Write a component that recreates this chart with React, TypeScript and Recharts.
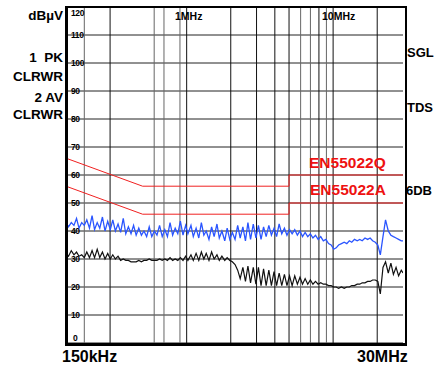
import React from "react";
import { LineChart, Line, XAxis, YAxis, CartesianGrid, ReferenceLine } from "recharts";

// sweep frequencies in MHz
const freqs = [
  0.15, 0.156, 0.163, 0.17, 0.177, 0.184, 0.192, 0.2,
  0.208, 0.217, 0.226, 0.235, 0.245, 0.255, 0.266, 0.277, 0.289, 0.301,
  0.313, 0.326, 0.34, 0.354, 0.369, 0.384, 0.4,
  0.417, 0.434, 0.452, 0.471, 0.491, 0.511,
  0.533, 0.555, 0.578, 0.602, 0.627, 0.653, 0.681, 0.709,
  0.739, 0.77, 0.802, 0.835, 0.87, 0.906, 0.944, 0.984, 1.02,
  1.07, 1.11, 1.16, 1.21, 1.26, 1.31, 1.36, 1.42, 1.48, 1.54, 1.61, 1.67, 1.74, 1.82, 1.89, 1.97, 2.05,
  2.14, 2.23, 2.32, 2.42, 2.52, 2.62, 2.73, 2.85, 2.97, 3.09,
  3.22, 3.35, 3.49, 3.64, 3.79, 3.95, 4.11, 4.28, 4.46, 4.65, 4.84, 5.04,
  5.25, 5.47, 5.7, 5.94, 6.18, 6.44, 6.71, 6.99, 7.28, 7.58, 7.9, 8.23, 8.57, 8.93, 9.3, 9.69, 10.1,
  10.5, 10.9, 11.4, 11.9, 12.4, 12.9, 13.4, 14.0, 14.6, 15.2, 15.8, 16.5, 17.2, 17.9, 18.6, 19.4, 20.2,
  21.0, 21.9, 22.8, 23.8, 24.8, 25.8, 26.9, 28.0, 29.2, 30.0,
];

// trace 1: peak (dBµV)
const peak = [
  43, 41.5, 43, 42, 44.5, 41, 43, 42,
  44, 41, 45.5, 40.5, 43, 41, 45, 40, 43.5, 40.5,
  44, 40, 42.5, 39.5, 44.5, 39, 41.5,
  39, 42, 38.5, 41, 38.5, 40,
  38, 41.5, 38, 40, 38.5, 42, 38, 40.5,
  38, 43, 38.5, 41, 39, 43.5, 38.5, 42, 39,
  42, 38, 41, 37.5, 43, 38.5, 40, 37, 41.5, 38, 42.5, 37.5, 40, 36.5, 41, 37, 39.5,
  37, 42, 37.5, 41.5, 36.5, 43, 37, 42.5, 37.5, 42,
  37, 41.5, 38, 42, 38.5, 41, 38, 42.5, 39, 41, 38.5, 40.5,
  39, 40.5, 38.5, 40, 38, 39.5, 38, 39, 37.5, 38.5, 37, 38, 36.5, 37, 35.5, 35, 33.5,
  34, 35, 35.5, 36, 35.5, 36.5, 36, 37, 36.5, 37, 36.5, 37.5, 37, 37.5, 36.5, 36, 35,
  31.5, 38, 44, 40, 38.5, 38, 37.5, 37, 36.5, 36.5,
];

// trace 2: average (dBµV)
const avg = [
  32, 31, 33, 31.5, 32.5, 31, 31.5, 30.5,
  32.5, 30.5, 33, 30.5, 33.5, 30.5, 32.5, 30, 32, 30,
  31.5, 30, 31, 29.5, 30, 29.5, 29.5,
  29, 29, 29, 29.5, 29, 29.5,
  29.5, 30, 29.5, 29.5, 29.5, 30, 29.5, 30,
  29.5, 30.5, 29.5, 30, 29.5, 30.5, 29.5, 31, 29.5,
  31.5, 29.5, 32, 29.5, 32.5, 30, 32, 29.5, 32.5, 30, 31.5, 29.5, 31, 29.5, 30.5, 29.5, 29,
  28, 26, 23, 27, 22, 27.5, 21.5, 27, 21, 27,
  20.5, 26.5, 20.5, 26, 20.5, 25.5, 20.5, 25, 20.5, 24.5, 20.5, 24,
  20.5, 24, 21, 23.5, 21, 23, 21, 22.5, 21, 22, 21, 21.5, 21, 21, 20.5, 20.5, 20,
  20, 19.5, 20, 19.5, 20, 20, 20.5, 20.5, 21, 21, 21.5, 21.5, 22, 22, 22.5, 22.5, 22,
  17.5, 27, 29, 25, 28.5, 24.5, 27, 24, 26, 25,
];

// EN55022 class B limits
const limitFreqs = [0.15, 0.5, 5, 5, 30];
const limitQP = [66, 56, 56, 60, 60];
const limitAV = [56, 46, 46, 50, 50];

const gridFreqs = [0.2, 0.3, 0.6, 0.7, 0.9, 1, 2, 3, 4, 5, 6, 7, 8, 9, 10, 20];
const darkGrid = [0.3, 1, 2, 3, 4, 5, 8, 10, 20];
const levelTicks = [0, 10, 20, 30, 40, 50, 60, 70, 80, 90, 100, 110, 120];

const traceData = freqs.map((f, i) => ({ f, pk: peak[i], av: avg[i] }));
const limitData = limitFreqs.map((f, i) => ({ f, qp: limitQP[i], av: limitAV[i] }));

const W = 443;
const H = 368;

function LevelTick(props: any) {
  const { y, payload } = props;
  const v = payload.value;
  const dy = v === 120 ? 6 : v === 0 ? -5 : 0;
  return (
    <text
      x={v === 0 ? 73 : 71}
      y={y + dy}
      dy="0.35em"
      fontSize={8.5}
      fontWeight="bold"
      fontFamily="Liberation Sans, Arial, sans-serif"
      fill="#000"
      letterSpacing={-0.4}
    >
      {v}
    </text>
  );
}

function Txt({
  x,
  cy,
  size,
  right,
  color = "#000",
  children,
}: {
  x: number;
  cy: number;
  size: number;
  right?: boolean;
  color?: string;
  children: React.ReactNode;
}) {
  const pos: React.CSSProperties = right ? { right: W - x } : { left: x };
  return (
    <div
      style={{
        position: "absolute",
        ...pos,
        top: cy - size * 0.49,
        fontSize: size,
        lineHeight: 1,
        whiteSpace: "pre",
        color,
      }}
    >
      {children}
    </div>
  );
}

export default function App() {
  return (
    <div style={{ position: "absolute", left: 0, top: 0, width: W, height: H, background: "#fff" }}>
      <div
        style={{
          position: "relative",
          width: W,
          height: H,
          fontFamily: "Liberation Sans, Arial, sans-serif",
          fontWeight: "bold",
        }}
      >
        <LineChart width={W} height={H} margin={{ top: 7, right: 40, bottom: 25, left: 66 }}>
          <CartesianGrid vertical={false} stroke="#222" strokeWidth={1} />
          <XAxis type="number" dataKey="f" scale="log" domain={[0.15, 30]} hide allowDataOverflow />
          <YAxis
            type="number"
            domain={[0, 120]}
            ticks={levelTicks}
            interval={0}
            mirror
            axisLine={false}
            tickLine={false}
            tick={<LevelTick />}
          />
          {gridFreqs.map((f) => (
            <ReferenceLine
              key={f}
              x={f}
              stroke={darkGrid.includes(f) ? "#111" : "#666"}
              strokeWidth={1}
            />
          ))}
          <Line data={limitData} dataKey="qp" stroke="#f02020" strokeWidth={1} dot={false} isAnimationActive={false} />
          <Line data={limitData} dataKey="av" stroke="#f02020" strokeWidth={1} dot={false} isAnimationActive={false} />
          <Line data={traceData} dataKey="av" stroke="#111" strokeWidth={1.2} dot={false} isAnimationActive={false} />
          <Line data={traceData} dataKey="pk" stroke="#2a55ff" strokeWidth={1.3} dot={false} isAnimationActive={false} />
        </LineChart>

        {/* plot frame */}
        <div
          style={{
            position: "absolute",
            left: 65,
            top: 6,
            width: 337,
            height: 335,
            borderTop: "2px solid #000",
            borderLeft: "3px solid #000",
            borderRight: "2px solid #000",
            borderBottom: "3px solid #000",
            pointerEvents: "none",
          }}
        />

        <Txt x={63} cy={16} size={13.5} right>dBµV</Txt>
        <Txt x={63} cy={58} size={13.5} right>{"1  PK"}</Txt>
        <Txt x={63} cy={77} size={13.5} right>CLRWR</Txt>
        <Txt x={63} cy={98} size={13.5} right>2 AV</Txt>
        <Txt x={63} cy={115} size={13.5} right>CLRWR</Txt>

        <Txt x={407} cy={52} size={13}>SGL</Txt>
        <Txt x={407} cy={107} size={13}>TDS</Txt>
        <Txt x={406} cy={190} size={13}>6DB</Txt>

        <Txt x={175} cy={16} size={10.5}>1MHz</Txt>
        <Txt x={322} cy={16} size={10.5}>10MHz</Txt>

        <Txt x={62} cy={357} size={16}>150kHz</Txt>
        <Txt x={357} cy={357} size={16}>30MHz</Txt>

        <Txt x={309} cy={163} size={15.5} color="#ee1111">EN55022Q</Txt>
        <Txt x={310} cy={190} size={15.5} color="#ee1111">EN55022A</Txt>
      </div>
    </div>
  );
}
